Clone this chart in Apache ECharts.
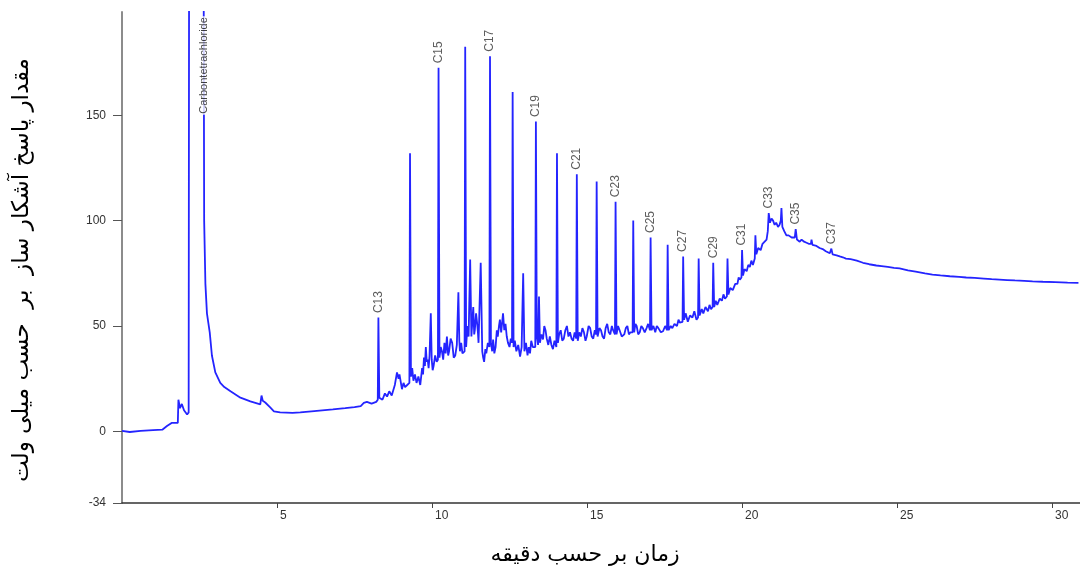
<!DOCTYPE html>
<html>
<head>
<meta charset="utf-8">
<script src="https://cdn.jsdelivr.net/npm/echarts@6/dist/echarts.min.js"></script>
<style>
  html, body { margin: 0; padding: 0; background: #fff; }
  #chart { width: 1080px; height: 585px; }
</style>
</head>
<body>
<div id="chart"></div>
<script>
// chromatogram trace: [time (min), response (mV)]
const trace = [
  [0.00, 0.2], [0.25, -0.3], [0.6, 0.2], [1.0, 0.6], [1.3, 0.8], [1.45, 2.5], [1.6, 4.0], [1.80, 4.0],
  [1.82, 15], [1.87, 11], [1.93, 13], [2.0, 10], [2.1, 8],
  [2.15, 9], [2.17, 320], [2.62, 320],
  [2.65, 100], [2.69, 70], [2.74, 56], [2.83, 47], [2.90, 36], [3.01, 28], [3.17, 23], [3.3, 21], [3.5, 19],
  [3.82, 16], [4.14, 14.2], [4.46, 12.8], [4.50, 17], [4.54, 14.5], [4.62, 13.7], [4.78, 11.4], [4.9, 9.5],
  [5.1, 9], [5.5, 8.8], [5.75, 9], [6.2, 9.6], [6.8, 10.4], [7.2, 11], [7.5, 11.5], [7.7, 12], [7.8, 13.5],
  [7.9, 14], [8.05, 13.2], [8.2, 14],
  [8.25, 15], [8.27, 54], [8.30, 16], [8.4, 15], [8.48, 18], [8.55, 16.5], [8.62, 19], [8.7, 17], [8.8, 22],
  [8.87, 28], [8.92, 25], [8.95, 27], [9.03, 20], [9.08, 23], [9.13, 21], [9.2, 22],
  [9.27, 23], [9.29, 132], [9.32, 26], [9.36, 30], [9.40, 24], [9.45, 27], [9.5, 23], [9.56, 26], [9.62, 22],
  [9.68, 30], [9.71, 27], [9.74, 35], [9.77, 31], [9.8, 40], [9.83, 33], [9.86, 34], [9.89, 30], [9.92, 36],
  [9.96, 56], [9.99, 34], [10.02, 29], [10.05, 31], [10.1, 36], [10.15, 33],
  [10.19, 34], [10.21, 172.5], [10.24, 35], [10.28, 40], [10.32, 38], [10.36, 34], [10.40, 42], [10.44, 37],
  [10.48, 45], [10.52, 36], [10.55, 38], [10.6, 44], [10.65, 42], [10.7, 35], [10.75, 36], [10.8, 41],
  [10.85, 66], [10.88, 43], [10.9, 38], [10.94, 42], [10.98, 37],
  [11.05, 38], [11.07, 182.5], [11.10, 40], [11.14, 50], [11.18, 45],
  [11.23, 81.5], [11.27, 45], [11.30, 52], [11.33, 59], [11.36, 46], [11.38, 48], [11.42, 56], [11.45, 52],
  [11.48, 47], [11.50, 42],
  [11.57, 80], [11.62, 38], [11.65, 35], [11.68, 33], [11.72, 39], [11.75, 37], [11.8, 42],
  [11.85, 40], [11.87, 178], [11.90, 42], [11.94, 38], [11.97, 43.6], [12.01, 37], [12.05, 40], [12.09, 48],
  [12.12, 45], [12.16, 50], [12.19, 53], [12.23, 47],
  [12.29, 56], [12.33, 48], [12.37, 51], [12.41, 45], [12.45, 42], [12.5, 40], [12.54, 44],
  [12.58, 42], [12.60, 161], [12.63, 40], [12.67, 43], [12.72, 38], [12.78, 41], [12.84, 35.5], [12.89, 40],
  [12.94, 75], [12.98, 38], [13.03, 42], [13.08, 36], [13.12, 40], [13.16, 37], [13.2, 43], [13.25, 40],
  [13.33, 40], [13.35, 147], [13.38, 45], [13.42, 41], [13.45, 64], [13.48, 42], [13.53, 46], [13.58, 43.6],
  [13.62, 50], [13.66, 48], [13.7, 44], [13.75, 41], [13.8, 45], [13.85, 41], [13.9, 39], [13.95, 43],
  [14.01, 40], [14.03, 132], [14.06, 42], [14.1, 46], [14.15, 48], [14.2, 43], [14.25, 44], [14.3, 48],
  [14.35, 50], [14.4, 45], [14.45, 47], [14.5, 44], [14.55, 43], [14.6, 47],
  [14.65, 44], [14.67, 122], [14.70, 43], [14.75, 47], [14.8, 45], [14.85, 49], [14.9, 47], [14.95, 43],
  [14.99, 45], [15.05, 50], [15.1, 49], [15.15, 45], [15.2, 44], [15.25, 48],
  [15.29, 46], [15.31, 118.6], [15.34, 45], [15.4, 49], [15.45, 48], [15.5, 45], [15.55, 44], [15.6, 49],
  [15.65, 51], [15.7, 47], [15.75, 46], [15.8, 50], [15.84, 48],
  [15.90, 46], [15.92, 109], [15.95, 46], [16.0, 50], [16.05, 48], [16.12, 45], [16.2, 46], [16.25, 49],
  [16.3, 50], [16.35, 46], [16.4, 47],
  [16.47, 47], [16.49, 100], [16.52, 47], [16.56, 51], [16.6, 50], [16.65, 46], [16.7, 47], [16.75, 50],
  [16.8, 49], [16.86, 47], [16.92, 49], [16.97, 51],
  [17.03, 48], [17.05, 92], [17.08, 48], [17.14, 50], [17.2, 47], [17.25, 50], [17.3, 49], [17.38, 47],
  [17.45, 47.5], [17.52, 50],
  [17.58, 48], [17.60, 88.5], [17.63, 48], [17.7, 50], [17.75, 49], [17.82, 51], [17.9, 50], [17.95, 53],
  [17.99, 51.6],
  [18.08, 52], [18.10, 83], [18.13, 53], [18.18, 56], [18.25, 52], [18.32, 55], [18.4, 54], [18.46, 57],
  [18.53, 53],
  [18.58, 54], [18.60, 82], [18.63, 55], [18.7, 58], [18.75, 56], [18.82, 59], [18.9, 57], [18.95, 60],
  [19.0, 58],
  [19.05, 59], [19.07, 80], [19.10, 59], [19.15, 62], [19.2, 60], [19.28, 63], [19.35, 62], [19.4, 65],
  [19.45, 63],
  [19.51, 64], [19.53, 82], [19.56, 65], [19.62, 68], [19.7, 67], [19.78, 70], [19.85, 70], [19.89, 73],
  [19.93, 72],
  [19.98, 73], [20.00, 86], [20.03, 74], [20.08, 77], [20.15, 76], [20.2, 79], [20.25, 78], [20.3, 81],
  [20.35, 79],
  [20.41, 82], [20.43, 93], [20.46, 84], [20.52, 87], [20.6, 86], [20.66, 89], [20.72, 89], [20.79, 91],
  [20.83, 95], [20.86, 103.6], [20.9, 99], [20.95, 101], [21.0, 100], [21.05, 98], [21.1, 99], [21.16, 97],
  [21.21, 98], [21.25, 100], [21.27, 106],
  [21.3, 97], [21.36, 95], [21.43, 93], [21.5, 93], [21.6, 92],
  [21.70, 92], [21.73, 96], [21.77, 91], [21.86, 90], [21.92, 91], [22.0, 90], [22.08, 89.5], [22.15, 89],
  [22.22, 89], [22.24, 91], [22.27, 88.5], [22.4, 88], [22.5, 87], [22.6, 86.5], [22.7, 85.5], [22.83, 84.5],
  [22.86, 85], [22.88, 86.7], [22.92, 84], [23.05, 83.5], [23.15, 83], [23.25, 82.6], [23.35, 82], [23.5, 81.7],
  [23.57, 81.5], [23.7, 81], [23.9, 80], [24.1, 79.3], [24.33, 78.7], [24.5, 78.4], [24.7, 78], [24.9, 77.6],
  [25.08, 77.3], [25.35, 76.4], [25.6, 75.8], [25.9, 75], [26.14, 74.4], [26.4, 74], [26.7, 73.6], [27.0, 73.3],
  [27.23, 73], [27.5, 72.8], [27.8, 72.5], [28.05, 72.2], [28.30, 72], [28.55, 71.8], [28.8, 71.6], [29.1, 71.4],
  [29.37, 71.2], [29.7, 71], [30.1, 70.8], [30.5, 70.6], [30.85, 70.5]
];

// labelled n-alkane peaks
const peakNames = ['C13', 'C15', 'C17', 'C19', 'C21', 'C23', 'C25', 'C27', 'C29', 'C31', 'C33', 'C35', 'C37'];
const peakTimes = [8.27, 10.21, 11.87, 13.35, 14.67, 15.92, 17.05, 18.10, 19.07, 20.00, 20.86, 21.73, 22.88];
const peakTops = [54, 172.5, 178, 147, 122, 109, 92, 83, 80, 86, 103.6, 96, 86.7];

// solvent peak label
const solventName = 'Carbontetrachloride';
const solventAt = [2.63, 150];

const xTicks = [5, 10, 15, 20, 25, 30];
const yTicks = [-34, 0, 50, 100, 150];

const yTitle = 'مقدار پاسخ آشکار ساز  بر  حسب میلی ولت';
const xTitle = 'زمان بر حسب دقیقه';

const chart = echarts.init(document.getElementById('chart'));

const tickFont = 'Arial, "Liberation Sans", sans-serif';

const option = {
  animation: false,
  backgroundColor: '#fff',
  grid: { left: 122, right: 0, top: 12, bottom: 82 },
  xAxis: {
    type: 'value',
    min: 0,
    max: 30.9,
    axisLine: { onZero: false, lineStyle: { color: '#333', width: 1.5 } },
    axisTick: { show: true, inside: false, length: 5, customValues: xTicks, lineStyle: { color: '#444' } },
    axisLabel: {
      customValues: xTicks,
      align: 'left',
      padding: [0, 0, 0, 3],
      margin: 7,
      color: '#333',
      fontSize: 12,
      fontFamily: tickFont
    },
    splitLine: { show: false }
  },
  yAxis: {
    type: 'value',
    min: -34,
    max: 199,
    axisLine: { show: true, lineStyle: { color: '#8c8c8c', width: 2 } },
    axisTick: { show: true, length: 9, customValues: yTicks, lineStyle: { color: '#555' } },
    axisLabel: {
      customValues: yTicks,
      margin: 16,
      color: '#333',
      fontSize: 12,
      fontFamily: tickFont
    },
    splitLine: { show: false }
  },
  graphic: [
    {
      type: 'text',
      x: 22, y: 270,
      rotation: Math.PI / 2,
      style: {
        text: yTitle,
        fill: '#000',
        font: '23px "DejaVu Sans", sans-serif',
        textAlign: 'center',
        textVerticalAlign: 'middle'
      }
    },
    {
      type: 'text',
      x: 585, y: 555,
      style: {
        text: xTitle,
        fill: '#000',
        font: '22px "DejaVu Sans", sans-serif',
        textAlign: 'center',
        textVerticalAlign: 'middle'
      }
    }
  ],
  series: [
    {
      type: 'line',
      data: trace,
      showSymbol: false,
      clip: true,
      lineStyle: { color: '#2424ff', width: 1.8 },
      z: 2
    },
    {
      type: 'scatter',
      data: peakTimes.map((t, i) => ({ value: [t, peakTops[i]], name: peakNames[i] })),
      symbolSize: 1,
      itemStyle: { color: 'rgba(0,0,0,0)' },
      silent: true,
      z: 3,
      label: {
        show: true,
        position: 'top',
        distance: 4,
        rotate: 90,
        align: 'left',
        verticalAlign: 'middle',
        formatter: p => p.name,
        color: '#333',
        fontSize: 12,
        fontFamily: tickFont
      }
    },
    {
      type: 'scatter',
      data: [{ value: solventAt, name: solventName }],
      symbolSize: 1,
      itemStyle: { color: 'rgba(0,0,0,0)' },
      silent: true,
      z: 4,
      label: {
        show: true,
        position: 'top',
        distance: 0,
        rotate: 90,
        align: 'left',
        verticalAlign: 'middle',
        formatter: p => p.name,
        color: '#111',
        fontSize: 11,
        backgroundColor: '#fff',
        padding: [0, 1],
        fontFamily: tickFont
      }
    }
  ]
};

chart.setOption(option);
</script>
</body>
</html>
